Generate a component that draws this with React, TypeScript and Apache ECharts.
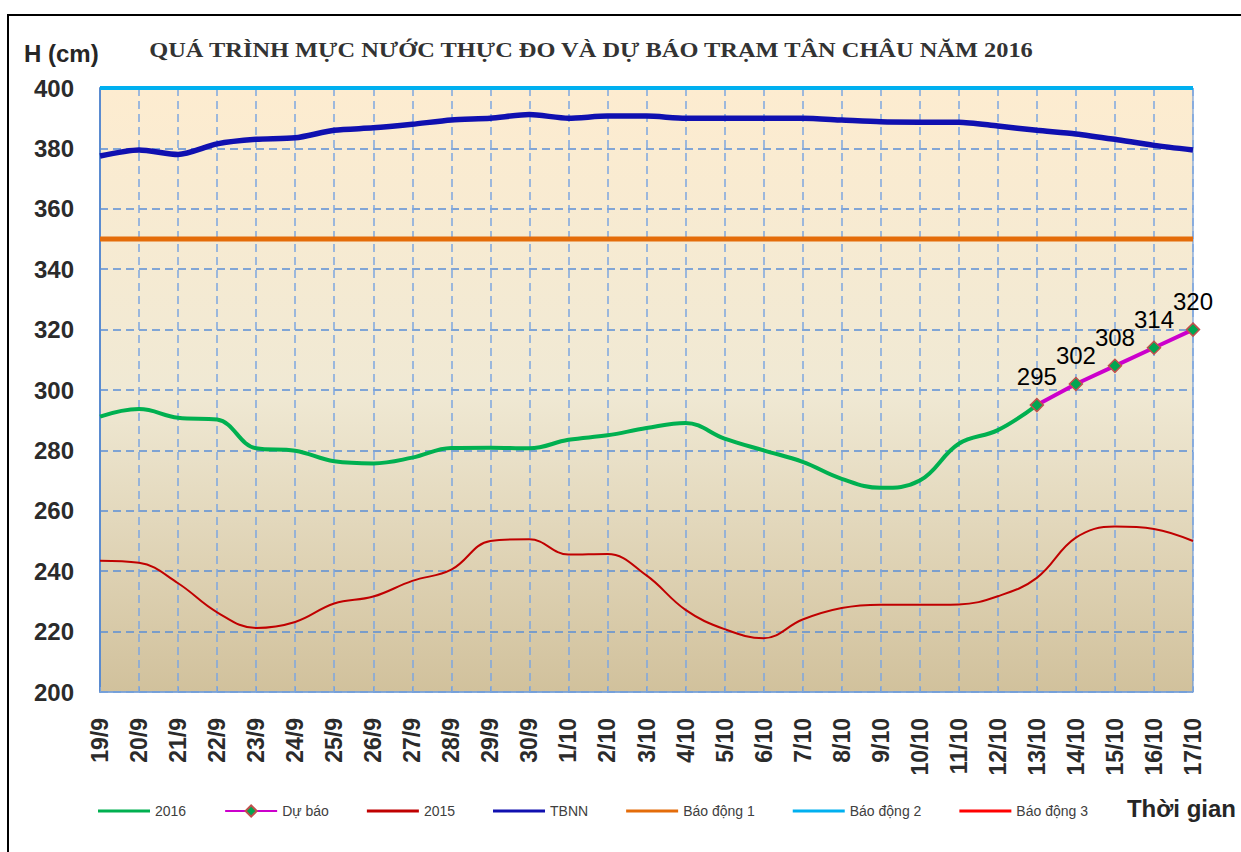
import React, { useEffect, useRef } from "react";
import * as echarts from "echarts";

const categories = [
  "19/9", "20/9", "21/9", "22/9", "23/9", "24/9", "25/9", "26/9", "27/9", "28/9",
  "29/9", "30/9", "1/10", "2/10", "3/10", "4/10", "5/10", "6/10", "7/10", "8/10",
  "9/10", "10/10", "11/10", "12/10", "13/10", "14/10", "15/10", "16/10", "17/10",
];

const series2016 = [
  291.2, 293.7, 290.8, 290.2, 280.7, 279.9, 276.4, 275.7, 277.6, 280.8,
  280.9, 280.7, 283.5, 285.0, 287.4, 289.1, 283.9, 280.0, 276.2, 270.6,
  267.6, 270.0, 282.2, 286.7, 295, null, null, null, null,
];

const forecast = [
  null, null, null, null, null, null, null, null, null, null,
  null, null, null, null, null, null, null, null, null, null,
  null, null, null, null, 295, 302, 308, 314, 320,
];

const series2015 = [
  243.5, 242.8, 236.0, 226.4, 221.2, 223.2, 229.3, 231.6, 236.8, 240.5,
  250.0, 250.6, 245.5, 245.7, 238.6, 227.2, 220.8, 217.8, 224.0, 227.8,
  228.9, 228.9, 229.0, 231.7, 237.8, 251.1, 254.8, 254.0, 250.0,
];

const tbnn = [
  377.5, 379.5, 378.0, 381.5, 383.0, 383.5, 386.0, 386.8, 388.0, 389.4,
  390.0, 391.2, 390.0, 390.7, 390.7, 390.0, 390.0, 390.0, 390.0, 389.4,
  388.8, 388.7, 388.7, 387.4, 386.0, 384.8, 383.0, 381.0, 379.5,
];

const ALARM_1 = 350;
const ALARM_2 = 400;
const ALARM_3 = 450;

const yTicks = { min: 200, max: 400, interval: 20 };

const TITLE = "QUÁ TRÌNH MỰC NƯỚC THỰC ĐO VÀ DỰ BÁO TRẠM TÂN CHÂU NĂM 2016";
const legendNames = ["2016", "Dự báo", "2015", "TBNN", "Báo động 1", "Báo động 2", "Báo động 3"];

export default function App() {
  const ref = useRef<HTMLDivElement>(null);

  useEffect(() => {
    if (!ref.current) return;
    const chart = echarts.init(ref.current, undefined, { renderer: "svg" });
    const level = (v: number) => categories.map(() => v);
    const lineIcon = "path://M0,0L52,0L52,3L0,3Z";

    const option: any = {
      animation: false,
      backgroundColor: "#ffffff",
      grid: {
        left: 100,
        right: 48,
        top: 88,
        bottom: 160,
        show: true,
        borderColor: "#5a8bd0",
        borderWidth: 1,
        backgroundColor: new echarts.graphic.LinearGradient(0, 0, 0, 1, [
          { offset: 0, color: "#fdecd0" },
          { offset: 0.5, color: "#f0e9d4" },
          { offset: 1, color: "#d1c19c" },
        ]),
      },
      graphic: [
        {
          type: "rect",
          shape: { x: 8, y: 15, width: 1260, height: 860 },
          style: { fill: "none", stroke: "#000", lineWidth: 2 },
          silent: true,
        },
        {
          type: "text",
          x: 591,
          y: 50,
          scaleX: 1.22,
          style: {
            text: TITLE,
            font: 'bold 20px "Liberation Serif", "DejaVu Serif", serif',
            fill: "#333333",
            align: "center",
            verticalAlign: "middle",
          },
        },
        {
          type: "text",
          x: 24,
          y: 53,
          style: {
            text: "H (cm)",
            font: 'bold 24px "Liberation Sans", Arial, sans-serif',
            fill: "#262626",
            align: "left",
            verticalAlign: "middle",
          },
        },
        {
          type: "text",
          x: 1236,
          y: 808,
          style: {
            text: "Thời gian",
            font: 'bold 24px "Liberation Sans", Arial, sans-serif',
            fill: "#262626",
            align: "right",
            verticalAlign: "middle",
          },
        },
      ],
      legend: {
        left: 93,
        top: 799,
        itemWidth: 52,
        itemHeight: 14,
        itemGap: 38,
        textStyle: {
          fontFamily: '"Liberation Sans", Arial, sans-serif',
          fontSize: 14,
          color: "#404040",
        },
        data: legendNames.map((n) => (n === "Dự báo" ? { name: n } : { name: n, icon: lineIcon })),
      },
      xAxis: {
        type: "category",
        data: categories,
        boundaryGap: false,
        axisLine: { lineStyle: { color: "#7aa3da", width: 1.5 } },
        axisTick: { inside: true, length: 5, lineStyle: { color: "#7aa3da" } },
        axisLabel: {
          rotate: 90,
          margin: 26,
          interval: 0,
          fontFamily: '"Liberation Sans", Arial, sans-serif',
          fontWeight: "bold",
          fontSize: 23,
          color: "#2b2b2b",
        },
        splitLine: {
          show: true,
          lineStyle: { color: "#7da6e0", type: [8, 5], width: 1.5 },
        },
      },
      yAxis: {
        type: "value",
        min: yTicks.min,
        max: yTicks.max,
        interval: yTicks.interval,
        axisLine: { show: true, lineStyle: { color: "#5a8bd0", width: 2 } },
        axisTick: { show: false },
        axisLabel: {
          margin: 26,
          fontFamily: '"Liberation Sans", Arial, sans-serif',
          fontWeight: "bold",
          fontSize: 24,
          color: "#2b2b2b",
        },
        splitLine: {
          show: true,
          lineStyle: { color: "#5b8ed6", type: [8, 5], width: 1.5 },
        },
      },
      series: [
        {
          name: "2016",
          type: "line",
          data: series2016,
          smooth: 0.4,
          symbol: "none",
          lineStyle: { color: "#00b050", width: 4 },
          itemStyle: { color: "#00b050" },
          z: 5,
        },
        {
          name: "Dự báo",
          type: "line",
          data: forecast,
          symbol: "diamond",
          symbolSize: 13,
          lineStyle: { color: "#cc00cc", width: 4 },
          itemStyle: { color: "#00a651", borderColor: "#c0504d", borderWidth: 1.5 },
          label: {
            show: true,
            position: "top",
            distance: 9,
            fontFamily: '"Liberation Sans", Arial, sans-serif',
            fontSize: 24,
            color: "#000",
          },
          z: 6,
        },
        {
          name: "2015",
          type: "line",
          data: series2015,
          smooth: 0.4,
          symbol: "none",
          lineStyle: { color: "#c00000", width: 2 },
          itemStyle: { color: "#c00000" },
          z: 4,
        },
        {
          name: "TBNN",
          type: "line",
          data: tbnn,
          smooth: 0.25,
          symbol: "none",
          lineStyle: { color: "#1010b0", width: 5.5 },
          itemStyle: { color: "#1010b0" },
          z: 4,
        },
        {
          name: "Báo động 1",
          type: "line",
          data: level(ALARM_1),
          symbol: "none",
          lineStyle: { color: "#e46c0a", width: 5 },
          itemStyle: { color: "#e46c0a" },
          z: 3,
        },
        {
          name: "Báo động 2",
          type: "line",
          data: level(ALARM_2),
          symbol: "none",
          lineStyle: { color: "#00b0f0", width: 4 },
          itemStyle: { color: "#00b0f0" },
          z: 3,
        },
        {
          name: "Báo động 3",
          type: "line",
          data: level(ALARM_3),
          symbol: "none",
          clip: true,
          lineStyle: { color: "#ff0000", width: 3 },
          itemStyle: { color: "#ff0000" },
          z: 3,
        },
      ],
    };

    chart.setOption(option);
    return () => chart.dispose();
  }, []);

  return (
    <div
      ref={ref}
      style={{ position: "fixed", left: 0, top: 0, width: 1241, height: 852, background: "#fff" }}
    />
  );
}
